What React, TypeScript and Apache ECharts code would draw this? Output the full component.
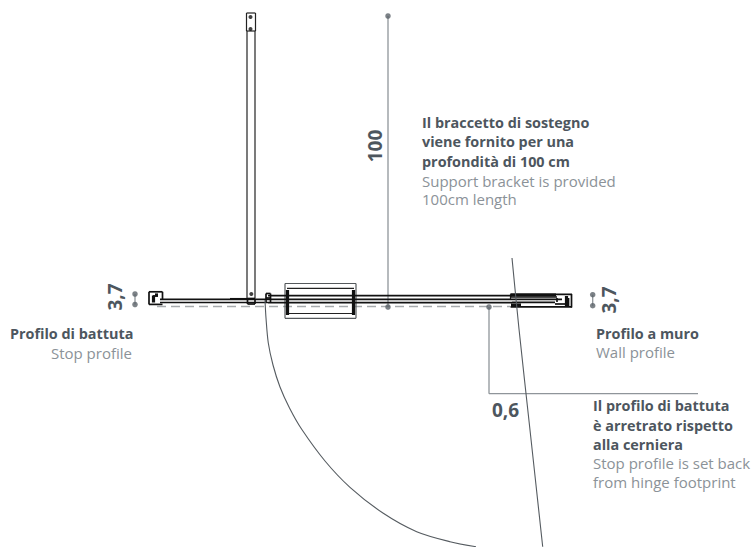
import React, { useEffect, useRef } from "react";
import * as echarts from "echarts";

type Seg = number[];
const FONT = "Open Sans";
const DARK = "#4d565e";
const LIGHT = "#8b9298";

// Drawing in drawing units
const heavySegments: Seg[] = [
  [160, 299.3, 268, 299.3], [160, 302.5, 268, 302.5], [230, 298.8, 248, 298.8],
  [268, 295.6, 512, 295.6], [268, 299.4, 512, 299.4], [268, 302.6, 512, 302.6],
  [149, 291.8, 162.5, 291.8], [149, 291.8, 149, 304.4], [162.5, 291.8, 162.5, 299], [149, 304.4, 162.5, 304.4],
  [153, 296, 158, 296], [154, 296, 154, 302],
  [247.5, 298.5, 255, 298.5], [247.5, 304, 255, 304], [247.5, 298.5, 247.5, 304], [255, 298.5, 255, 304],
  [266, 293.5, 270.5, 293.5], [266, 293.5, 266, 303], [270.5, 293.5, 270.5, 303], [266, 298, 270.5, 298],
  [510.5, 294.4, 572, 294.4], [510.5, 297, 557, 297], [512, 299.4, 562, 299.4], [512, 302.4, 555, 302.4],
  [510.5, 306.8, 572, 306.8], [571.5, 294, 571.5, 307.5],
  [557, 298, 557, 302], [568.5, 298, 568.5, 306], [555, 304, 568, 304],
];
const blockSegments: Seg[] = [
  [287.5, 290, 287.5, 315], [353.5, 290, 353.5, 315],
  [153.5, 295.5, 153.5, 302.5], [155, 295, 158, 295],
  [510.5, 295, 556, 295], [511, 305, 521, 305], [566.5, 296, 566.5, 306],
  [251, 298, 251, 299],
];
const frameSegments: Seg[] = [
  [246.5, 13, 255.5, 13], [246.5, 13, 246.5, 31], [255.5, 13, 255.5, 31], [246.5, 31, 255.5, 31],
  [247, 31, 247, 298], [255, 31, 255, 298],
  [287, 288.4, 354, 288.4], [287, 313.5, 354, 313.5],
  [510.5, 294.3, 510.5, 300],
];
const bracketFrame: Seg[] = [
  [285, 283.5, 356, 283.5], [285, 318.3, 356, 318.3], [285, 283.5, 285, 318.3], [356, 283.5, 356, 318.3],
];
const doorPoints: Seg[] = [[512, 258], [519, 329], [530, 430], [542.7, 546.7]];
const swingPoints: Seg[] = [
  [265, 300], [266, 318], [268.3, 343], [273, 365], [280, 387], [289.5, 408], [301.7, 429.3],
  [325, 461], [350, 487.3], [383.3, 513.3], [416.7, 531.7], [450, 541.7], [476, 546.7],
];
const dashedSegments: Seg[] = [[157, 306.6, 510, 306.6]];
const leaderSegments: Seg[] = [
  [388, 16, 388, 307], [489, 307, 489, 393.7], [489, 393.7, 698, 393.7],
  [135, 294, 135, 304.5], [592.7, 294.7, 592.7, 305.7],
];
const dots: Seg[] = [[388, 16], [388, 307], [489, 307], [135, 294], [135, 304.5], [592.7, 294.7], [592.7, 305.7]];
const blackDots: Seg[] = [[251.3, 294], [250.5, 17], [250.5, 29]];

type Label = [string, number, number];
const measureLabels: Label[] = [["0,6", 492, 410]];
const rotatedLabels: Label[] = [["100", 375, 146], ["3,7", 115, 297], ["3,7", 609, 300]];
const boldLabels: Label[] = [
  ["Il braccetto di sostegno", 422, 122],
  ["viene fornito per una", 422, 141.5],
  ["profondità di 100 cm", 422, 161],
  ["Profilo a muro", 596, 333.5],
  ["Il profilo di battuta", 593, 405.5],
  ["è arretrato rispetto", 593, 425],
  ["alla cerniera", 593, 444.5],
  ["Profilo di battuta", 10, 333],
];
const lightLabels: Label[] = [
  ["Support bracket is provided", 422, 180.5],
  ["100cm length", 422, 199],
  ["Wall profile", 596, 351.5],
  ["Stop profile is set back", 593, 463],
  ["from hinge footprint", 593, 482],
];
const lightRightLabels: Label[] = [["Stop profile", 132, 352.5]];

function segmentSeries(segs: Seg[], stroke: string, lineWidth: number, lineDash?: number[]) {
  return {
    type: "custom",
    coordinateSystem: "cartesian2d",
    silent: true,
    data: segs,
    encode: { x: [0, 2], y: [1, 3] },
    renderItem: (_: any, api: any) => {
      const a = api.coord([api.value(0), api.value(1)]);
      const b = api.coord([api.value(2), api.value(3)]);
      return {
        type: "line",
        shape: { x1: a[0], y1: a[1], x2: b[0], y2: b[1] },
        style: { stroke, lineWidth, lineDash, fill: null },
      };
    },
  };
}

function curveSeries(points: Seg[], color: string, width: number) {
  return {
    type: "line",
    silent: true,
    data: points,
    showSymbol: false,
    smooth: 0.3,
    lineStyle: { color, width },
  };
}

function dotSeries(points: Seg[], color: string, size: number) {
  return {
    type: "scatter",
    silent: true,
    data: points,
    symbolSize: size,
    itemStyle: { color },
  };
}

function labelSeries(labels: Label[], opts: {
  fontSize: number; fontWeight: number | string; fill: string; align?: string; rotation?: number;
}) {
  return {
    type: "custom",
    coordinateSystem: "cartesian2d",
    silent: true,
    data: labels.map((l) => [l[1], l[2], l[0]]),
    encode: { x: 0, y: 1 },
    renderItem: (params: any, api: any) => {
      const p = api.coord([api.value(0), api.value(1)]);
      return {
        type: "text",
        x: p[0],
        y: p[1],
        rotation: opts.rotation ?? 0,
        style: {
          text: labels[params.dataIndex][0],
          fontFamily: FONT,
          fontSize: opts.fontSize,
          fontWeight: opts.fontWeight,
          fill: opts.fill,
          align: opts.align ?? "left",
          verticalAlign: "middle",
        },
      };
    },
  };
}

export default function App() {
  const ref = useRef<HTMLDivElement>(null);
  useEffect(() => {
    const chart = echarts.init(ref.current!, undefined, { renderer: "svg" });
    chart.setOption({
      animation: false,
      backgroundColor: "#ffffff",
      grid: { left: 0, right: 0, top: 0, bottom: 0 },
      xAxis: { type: "value", min: 0, max: 755, show: false },
      yAxis: { type: "value", min: 0, max: 547, inverse: true, show: false },
      series: [
        segmentSeries(dashedSegments, "#a6aaad", 1.5, [9, 5]),
        segmentSeries(leaderSegments, "#8f959a", 1.3),
        segmentSeries(bracketFrame, "#55595c", 1.2),
        segmentSeries(frameSegments, "#222222", 1.2),
        segmentSeries(heavySegments, "#111111", 1.7),
        segmentSeries(blockSegments, "#111111", 3.2),
        curveSeries(doorPoints, "#555b60", 1.1),
        curveSeries(swingPoints, "#555b60", 1.1),
        dotSeries(dots, "#5b6369", 5.5),
        dotSeries(blackDots, "#111111", 4),
        labelSeries(measureLabels, { fontSize: 19, fontWeight: 700, fill: DARK }),
        labelSeries(rotatedLabels, { fontSize: 19, fontWeight: 700, fill: DARK, align: "center", rotation: Math.PI / 2 }),
        labelSeries(boldLabels, { fontSize: 14.4, fontWeight: 700, fill: DARK }),
        labelSeries(lightLabels, { fontSize: 15, fontWeight: 400, fill: LIGHT }),
        labelSeries(lightRightLabels, { fontSize: 15, fontWeight: 400, fill: LIGHT, align: "right" }),
      ],
    });
    return () => chart.dispose();
  }, []);
  return (
    <div
      ref={ref}
      style={{ position: "fixed", left: 0, top: 0, width: 755, height: 547 }}
    />
  );
}
